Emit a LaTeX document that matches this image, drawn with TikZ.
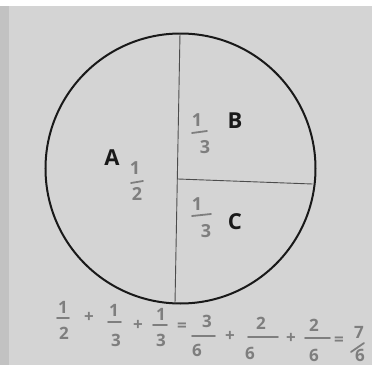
\documentclass[tikz,border=0pt]{standalone}
\usepackage{fontspec}
\setmainfont{Open Sans}
\definecolor{paper}{HTML}{D4D4D4}
\definecolor{edge}{HTML}{C2C2C2}
\definecolor{pencil}{HTML}{7E7E7E}
\begin{document}
\begin{tikzpicture}[x=1pt,y=-1pt,
  letter/.style={font=\fontsize{22}{22}\selectfont\bfseries, text=black!90, inner sep=0pt},
  frac/.style={font=\fontsize{18}{18}\selectfont\bfseries, text=pencil, inner sep=0pt},
  efrac/.style={font=\fontsize{17}{17}\selectfont\bfseries, text=pencil, inner sep=0pt},
  fracbar/.style={draw=pencil, line width=1.8pt, line cap=round},
  op/.style={font=\fontsize{17}{17}\selectfont\bfseries, text=pencil, inner sep=0pt},
  divider/.style={draw=black!70, line width=0.9pt}]
\useasboundingbox (0,0) rectangle (376,367);
\fill[paper] (0,0) rectangle (376,367);
\fill[edge] (0,0) rectangle (9,367);
% circle
\node[draw=black!90, line width=2pt, circle, minimum size=270pt, inner sep=0pt] (circ) at (180.5,168.5) {};
\coordinate (ctop) at (180,33.5);
\coordinate (cbot) at (175,303.5);
\coordinate (mid) at (178,179);
\coordinate (cright) at (312.5,184);
\draw[divider] (ctop) -- (cbot);
\draw[divider] (mid) -- (cright);
% labels
\node[letter] (A) at (112,158) {A};
\node[letter] (B) at (235,121) {B};
\node[letter] (C) at (235,222) {C};
% fractions in regions
\node[frac] (an) at (135,168.5) {1};
\draw[fracbar] (131,183) -- (143,181);
\node[frac] (ad) at (137,194) {2};
\node[frac] (bn) at (197,120) {1};
\draw[fracbar] (192,133) -- (207,131);
\node[frac] (bd) at (205,147.5) {3};
\node[frac] (cn) at (197,204) {1};
\draw[fracbar] (192,216) -- (211,214);
\node[frac] (cd) at (206,231.5) {3};
% equation
\node[efrac] (e1n) at (63,307.5) {1};
\draw[fracbar] (57,318) -- (69,318);
\node[efrac] (e1d) at (64,333.5) {2};
\node[op] (p1) at (89,317) {+};
\node[efrac] (e2n) at (114,310) {1};
\draw[fracbar] (108,322) -- (121,322);
\node[efrac] (e2d) at (116,340) {3};
\node[op] (p2) at (138,325) {+};
\node[efrac] (e3n) at (161,314) {1};
\draw[fracbar] (153,325) -- (167,325);
\node[efrac] (e3d) at (161,340) {3};
\node[op] (q1) at (182,327) {=};
\node[efrac] (e4n) at (207,321.5) {3};
\draw[fracbar] (192,336) -- (215,336);
\node[efrac] (e4d) at (197,350.5) {6};
\node[op] (p3) at (230,336) {+};
\node[efrac] (e5n) at (261,323.5) {2};
\draw[fracbar] (248,337) -- (278,337);
\node[efrac] (e5d) at (250,353) {6};
\node[op] (p4) at (291,338) {+};
\node[efrac] (e6n) at (314,325) {2};
\draw[fracbar] (305,338) -- (330,338);
\node[efrac] (e6d) at (314,355) {6};
\node[op] (q2) at (339,341) {=};
\node[efrac] (e7n) at (359,332) {7};
\draw[fracbar] (351,352) -- (364,343);
\node[efrac] (e7d) at (360,355) {6};
% photo frame
\fill[white] (0,0) rectangle (376,6);
\fill[white] (372,0) rectangle (376,367);
\fill[white] (0,365) rectangle (376,367);
\end{tikzpicture}
\end{document}
